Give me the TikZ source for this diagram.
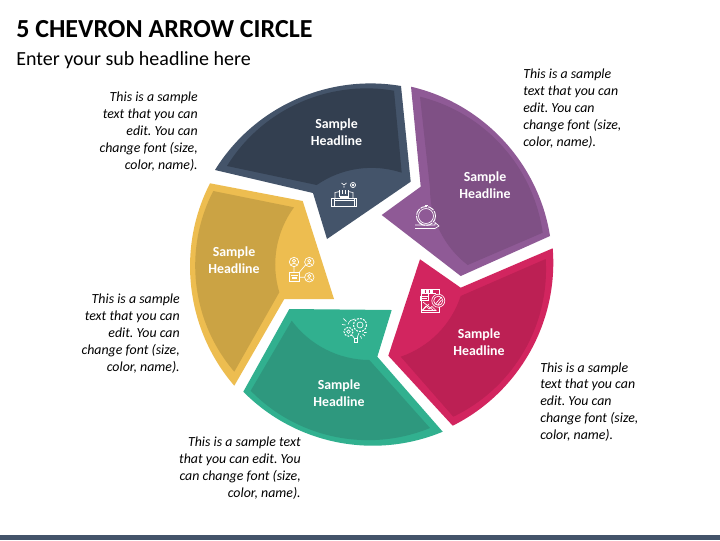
\documentclass[tikz,border=0pt]{standalone}
\usepackage{fontspec}
\setmainfont{Carlito}
\definecolor{navA}{HTML}{44546A}\definecolor{navB}{HTML}{333F50}
\definecolor{purA}{HTML}{8F5A96}\definecolor{purB}{HTML}{7F5085}
\definecolor{redA}{HTML}{D2255F}\definecolor{redB}{HTML}{BC2054}
\definecolor{grnA}{HTML}{31B08F}\definecolor{grnB}{HTML}{2E987E}
\definecolor{yelA}{HTML}{EDBD50}\definecolor{yelB}{HTML}{CBA344}
\tikzset{
 outerarc/.style={bend left=34,looseness=.93},
 innerarc/.style={bend right=26.5,looseness=.9},
 head/.style={text=white,font=\fontsize{10.4}{12.7}\selectfont\bfseries,align=center,inner sep=0pt},
 body/.style={text=black,font=\fontsize{10.4}{12.7}\selectfont\itshape\frenchspacing,inner sep=0pt},
 ico/.style={draw=white,line width=.5pt,fill=none},
}
\begin{document}
\begin{tikzpicture}[x=.75pt,y=-.75pt]
\useasboundingbox (0,0) rectangle (720,540);
\fill[white] (0,0) rectangle (720,540);
\fill[navA] (0,535) rectangle (720,540);
\node[anchor=west,inner sep=0pt,font=\fontsize{19.5}{22}\selectfont\bfseries] (title) at (16,29) {5 CHEVRON ARROW CIRCLE};
\node[anchor=west,inner sep=0pt,font=\fontsize{15}{18}\selectfont] (sub) at (16,60) {Enter your sub headline here};
% navy
\fill[navA] (215,170) to[outerarc] (401,86) -- (410.7,181.7) -- (327,239) -- (313,193) -- cycle;
\fill[navB] (227,166) to[outerarc] (394,90.7) -- (401.7,172.7) to[innerarc,bend right=26.5] (316.7,185) -- cycle;
% purple
\fill[purA] (411,86.7) to[outerarc] (550,236) -- (460.7,276) -- (381.7,215) -- (420.7,186.7) -- cycle;
\fill[purB] (420,96.7) to[outerarc] (542.7,232.7) -- (467.7,265) to[innerarc,bend left=26.5] (430,188) -- cycle;
% crimson
\fill[redA] (552.7,248.3) to[outerarc] (452.7,425.7) -- (388.3,355.7) -- (420,259.3) -- (460.7,287.7) -- cycle;
\fill[redB] (545.7,259) to[outerarc] (453.3,416.7) -- (400.7,356.7) to[innerarc] (460.7,296) -- cycle;
% green
\fill[grnA] (442.7,431.7) to[outerarc] (243.3,391.7) -- (289.3,309) -- (391.7,310) -- (377.3,356.7) -- cycle;
\fill[grnB] (430,428) to[outerarc] (250.7,390.7) -- (291.7,320.7) to[innerarc] (369.3,360) -- cycle;
% yellow
\fill[yelA] (234.3,385.7) to[outerarc] (210,183.3) -- (302.7,201) -- (334,299) -- (284.3,299) -- cycle;
\fill[yelB] (234.3,371.7) to[outerarc] (213.3,191) -- (294,207.3) to[innerarc] (279.3,292.3) -- cycle;
% headlines
\node[head] (h1) at (336.5,132.5) {Sample\\Headline};
\node[head] (h2) at (485,185.5) {Sample\\Headline};
\node[head] (h3) at (479,342.5) {Sample\\Headline};
\node[head] (h4) at (339,393.5) {Sample\\Headline};
\node[head] (h5) at (234,260.5) {Sample\\Headline};
% body
\node[body,align=right,anchor=east] (t1) at (198,131.5) {This is a sample\\text that you can\\edit. You can\\change font (size,\\color, name).};
\node[body,align=left,anchor=west] (t2) at (523,108.5) {This is a sample\\text that you can\\edit. You can\\change font (size,\\color, name).};
\node[body,align=left,anchor=west] (t3) at (540,402) {This is a sample\\text that you can\\edit. You can\\change font (size,\\color, name).};
\node[body,align=right,anchor=east] (t4) at (301,468.5) {This is a sample text\\that you can edit. You\\can change font (size,\\color, name).};
\node[body,align=right,anchor=east] (t5) at (180,333.5) {This is a sample\\text that you can\\edit. You can\\change font (size,\\color, name).};
% icon navy
\draw[ico] (331.7,198.3) rectangle (356.7,206.7) (334.5,198.3) -- (334.5,206.7) (354,198.3) -- (354,206.7) (334.5,200.5) -- (354,200.5);
\draw[ico] (335,198.3) -- (335,192.5) -- (340,191.5) (353,198.3) -- (353,192.5) -- (348,191.5);
\draw[ico] (339.5,190) -- (339.5,196) -- (348.5,196) -- (348.5,190) (342.5,190) -- (342.5,194) (345.5,190) -- (345.5,194) (339.5,197) -- (348.5,197);
\draw[ico] (341.5,183) -- (344,185) -- (346.5,183) (344,186) -- (344,187.5);
\draw[ico] (353,185) circle (2.6) (353,185) circle (.8);
% icon purple
\draw[ico,line width=.7pt,dash pattern=on 5pt off .8pt] (426,216) circle (9.5);
\draw[ico] (426,216) circle (7.5);
\draw[ico] (424.5,205) -- (427.5,205);
\draw[ico] (415,225) -- (435,225) -- (435,222.5) -- (439,226) -- (435,228.5) -- (415,228.5) (418,221.5) -- (423,225);
% icon crimson
\draw[ico] (428,296) -- (428,289.3) -- (439,289.3) -- (439,294) (421,296) -- (421,312.7) -- (439,312.7) -- (439,307);
\draw[ico] (421,289.3) -- (428,289.3) (421,289.3) -- (421,296) (421,293.3) -- (436,293.3);
\draw[ico,fill=white] (422,290.5) rectangle (424,292) (426,290.5) rectangle (428,292) (430,290.5) rectangle (432,292);
\draw[ico] (420,296) rectangle (428.3,300.7);
\fill[white] (422,297.7) rectangle (426.5,299);
\draw[ico] (438.3,300.7) circle (6.5) (438.3,300.7) circle (4.6) (435.5,304) -- (441,297.5) (438,304.5) -- (441.5,300);
\draw[ico] (423,302) -- (433,310) (423,310) -- (429,304);
\draw[ico] (422,310.5) -- (426,306) -- (429,309) -- (432,306.5) -- (436,310.5) -- cycle;
% icon green
\draw[ico] (354.3,338.3) rectangle (357.3,342.3);
\draw[ico] (354.3,338.3) .. controls (353.5,336) and (352,335.5) .. (351,335) (357.3,338.3) .. controls (357.5,336.5) and (358,335) .. (359,333);
\draw[ico] (348,324.5) .. controls (349,321) and (352,319) .. (355,319);
\draw[ico,line width=.8pt,dash pattern=on 1.4pt off .9pt] (360,325) circle (6.5);
\draw[ico] (360,325) circle (3);
\draw[ico,line width=.8pt,dash pattern=on 1.4pt off .9pt] (348.5,331.7) circle (4.5);
\draw[ico] (348.5,331.7) circle (1.8);
\draw[ico] (343.3,318.5) -- (346.5,321.5) (342,324.5) -- (345.5,325) (362.5,334) -- (365,336) (360.5,336) -- (361.5,338.5) (364,332.5) -- (366.5,332.5);
% icon yellow
\foreach \cx/\cy in {294/262,309.3/262,309.3/277.3}{
 \draw[ico] (\cx,\cy) circle (4.7) (\cx,\cy-1.2) circle (1.6);
 \draw[ico] (\cx-2.8,\cy+3.3) .. controls (\cx-2.5,\cy+.8) and (\cx+2.5,\cy+.8) .. (\cx+2.8,\cy+3.3);
}
\draw[ico,line width=.7pt] (289.3,272.3) rectangle (299.3,281.7) (291,275.5) -- (297.5,275.5);
\fill[white] (291.5,276.5) rectangle (296.5,279);
\draw[ico] (294,266.7) -- (294,272.3) (299.3,272.3) -- (305.5,265) (299.3,277.3) -- (304.6,277.3);
\end{tikzpicture}
\end{document}
